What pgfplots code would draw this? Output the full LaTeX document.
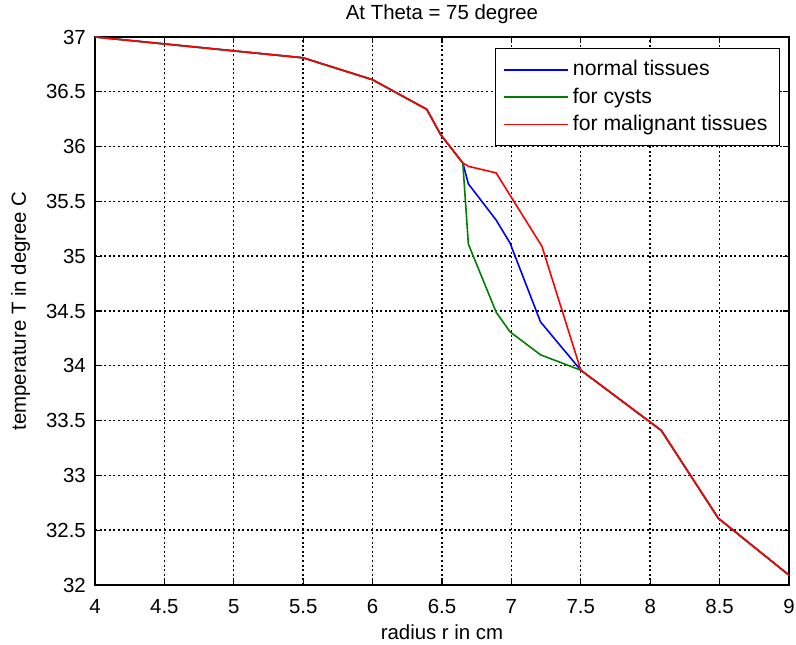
\documentclass[border=0pt]{standalone}
\usepackage{fontspec}
\setmainfont{Liberation Sans}
\usepackage{pgfplots}
\pgfplotsset{compat=1.18}
\definecolor{mblue}{RGB}{0,0,255}
\definecolor{mgreen}{RGB}{0,128,0}
\definecolor{mred}{RGB}{255,0,0}

\begin{document}
\fontsize{10.2}{12}\selectfont
\begin{tikzpicture}
\begin{axis}[name=ax,scale only axis,width=347pt,height=274pt,
  xmin=4,xmax=9,ymin=32,ymax=37,
  xtick={4,4.5,...,9},ytick={32,32.5,...,37},
  /pgf/number format/assume math mode=true,
  tick label style={font=\fontsize{10.2}{12}\selectfont},
  label style={font=\fontsize{10.2}{12}\selectfont},
  title style={font=\fontsize{10.2}{12}\selectfont},
  xticklabel style={yshift=-3.5pt},yticklabel style={xshift=-1pt},
  tick align=inside,major tick length=3pt,
  axis line style={line width=0.6pt},
  every tick/.style={black,line width=0.6pt},
  grid=major,major grid style={black,line width=0.7pt,dash pattern=on 1pt off 1.3pt},
  title={At Theta = 75 degree},title style={yshift=-3pt},
  xlabel={radius r in cm},ylabel={temperature T in degree C},
  xlabel style={yshift=1.5pt},ylabel style={yshift=1pt},
  legend cell align=left,
  legend image code/.code={\draw[#1,line width=0.8pt] (0pt,0pt) -- (32pt,0pt);},
  legend style={at={(1,1)},anchor=north east,xshift=-4.5pt,yshift=-5.5pt,
    draw=black,line width=0.6pt,font=\fontsize{10.6}{12}\selectfont,
    inner xsep=4pt,inner ysep=4pt,row sep=0.5pt},
]
\coordinate (bl) at (rel axis cs:0,0);
\coordinate (tr) at (rel axis cs:1,1);
\addplot[mblue,line width=0.8pt] coordinates {(4,37) (5.5,36.81) (6,36.61) (6.39,36.34) (6.49,36.11) (6.65,35.85) (6.69,35.66) (6.89,35.33) (6.99,35.12) (7.21,34.40) (7.5,33.96) (8.08,33.41) (8.49,32.61) (9,32.09)};
\addplot[mgreen,line width=0.8pt] coordinates {(4,37) (5.5,36.81) (6,36.61) (6.39,36.34) (6.49,36.11) (6.65,35.85) (6.69,35.11) (6.89,34.49) (6.99,34.31) (7.21,34.10) (7.5,33.96) (8.08,33.41) (8.49,32.61) (9,32.09)};
\addplot[mred,line width=0.8pt] coordinates {(4,37) (5.5,36.81) (6,36.61) (6.39,36.34) (6.49,36.11) (6.65,35.85) (6.69,35.82) (6.89,35.76) (7.22,35.09) (7.5,33.96) (8.08,33.41) (8.49,32.61) (9,32.09)};
\legend{normal tissues,for cysts,for malignant tissues}
\end{axis}
\pgfresetboundingbox
\useasboundingbox ([shift={(-47.5pt,-30pt)}]bl) rectangle ([shift={(3.5pt,18.5pt)}]tr);
\end{tikzpicture}
\end{document}
